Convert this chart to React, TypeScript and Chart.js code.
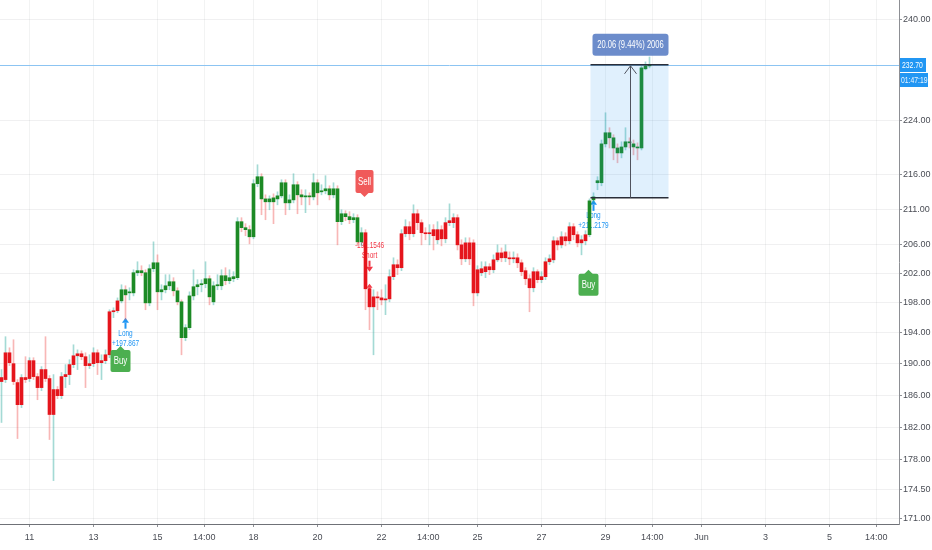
import React, { useEffect, useRef } from "react";
import { Chart, registerables } from "chart.js";

Chart.register(...registerables);

const FONT = '"Liberation Sans", Arial, sans-serif';

// 3-hour candles; hour offsets are measured from May 11, 00:00
const FIRST_BAR_HOUR = -21;
const BAR_HOURS = 3;

const OPEN = [
  187.71, 187.96, 191.41, 190.0, 187.58, 184.79, 188.22, 188.09, 190.39, 188.34,
  186.94, 189.24, 188.09, 183.56, 186.69, 185.92, 188.34, 188.6, 189.88, 191.02,
  191.28, 190.9, 189.75, 190.0, 191.41, 190.13, 190.39, 191.15, 196.81, 196.95,
  198.27, 199.77, 199.35, 199.35, 202.09, 202.37, 202.09, 198.0, 202.64, 203.46,
  199.49, 199.77, 200.31, 200.86, 199.63, 198.14, 193.38, 194.7, 198.94, 200.18,
  200.45, 200.59, 201.27, 198.14, 200.31, 200.31, 201.68, 201.0, 201.27, 201.41,
  209.21, 208.36, 208.08, 207.08, 214.67, 215.69, 212.47, 212.05, 212.62, 212.47,
  212.91, 214.81, 211.9, 212.33, 214.52, 213.06, 212.76, 212.91, 212.76, 214.81,
  213.49, 213.64, 213.93, 213.06, 213.93, 209.21, 210.34, 209.92, 209.49, 209.78,
  206.37, 207.65, 199.9, 197.47, 198.81, 198.67, 198.4, 198.54, 201.55, 203.19,
  202.78, 207.51, 208.5, 207.51, 210.34, 209.07, 207.65, 207.51, 208.08, 206.66,
  208.08, 206.8, 209.07, 209.07, 209.78, 205.95, 204.01, 206.23, 206.23, 199.35,
  202.09, 202.23, 202.91, 202.5, 203.87, 204.83, 204.15, 204.15, 204.01, 204.15,
  203.46, 202.37, 201.27, 200.04, 202.23, 201.14, 201.55, 203.6, 203.87, 206.52,
  205.95, 207.08, 206.52, 208.5, 207.37, 206.23, 206.52, 207.37, 212.33, 214.81,
  214.81, 220.55, 222.22, 221.46, 219.94, 219.2, 220.09, 220.86, 220.55, 220.09,
  219.94, 232.07, 232.53,
];
const HIGH = [
  189.24, 193.51, 192.06, 193.11, 187.96, 188.6, 190.9, 190.77, 190.77, 188.73,
  189.62, 193.51, 188.47, 188.6, 187.07, 188.86, 189.88, 190.51, 192.45, 191.79,
  191.66, 191.41, 191.15, 192.06, 191.79, 191.15, 191.79, 197.08, 197.34, 198.67,
  200.45, 200.31, 200.04, 202.5, 203.6, 203.05, 202.5, 203.19, 206.37, 204.56,
  200.45, 201.82, 201.82, 201.41, 200.04, 198.4, 195.1, 199.49, 202.5, 201.14,
  201.14, 203.6, 201.68, 200.86, 201.82, 202.5, 202.78, 202.5, 202.23, 209.78,
  209.78, 208.93, 208.64, 215.25, 217.45, 216.13, 213.06, 212.91, 213.2, 213.49,
  215.25, 215.25, 213.06, 216.13, 214.96, 213.79, 213.79, 213.35, 216.13, 215.25,
  214.52, 215.84, 214.37, 214.81, 214.37, 210.91, 210.77, 210.63, 210.34, 210.2,
  208.36, 208.08, 200.31, 199.77, 199.49, 199.77, 200.45, 202.5, 204.15, 203.87,
  208.08, 209.49, 209.21, 211.62, 210.91, 209.49, 208.36, 208.79, 208.79, 209.21,
  208.64, 209.78, 211.76, 210.34, 210.2, 206.66, 206.94, 206.94, 206.66, 203.05,
  203.6, 203.6, 203.33, 204.56, 205.95, 205.52, 205.95, 204.97, 204.97, 204.7,
  203.87, 202.78, 201.82, 202.78, 202.5, 202.23, 204.15, 204.56, 207.08, 206.94,
  207.79, 207.65, 209.07, 208.93, 207.79, 207.23, 207.93, 212.47, 213.35, 215.69,
  221.13, 225.25, 222.98, 221.92, 220.55, 220.86, 222.98, 221.46, 221.13, 220.7,
  232.53, 233.16, 233.94,
];
const LOW = [
  182.57, 187.58, 189.75, 187.32, 180.59, 184.42, 187.58, 187.71, 187.96, 185.41,
  186.56, 187.71, 180.47, 175.51, 185.54, 185.54, 186.94, 187.32, 189.49, 189.24,
  190.51, 186.94, 189.37, 189.62, 188.6, 187.96, 190.0, 190.77, 196.02, 196.68,
  198.0, 195.76, 198.4, 198.94, 201.68, 201.68, 197.08, 197.61, 202.23, 197.08,
  198.4, 199.35, 199.77, 198.94, 197.74, 191.15, 192.98, 194.43, 198.4, 199.08,
  199.49, 200.04, 197.74, 197.74, 199.77, 199.77, 200.45, 200.59, 200.86, 201.14,
  207.79, 207.23, 206.09, 206.8, 214.23, 210.2, 209.49, 210.91, 208.93, 211.62,
  212.62, 210.2, 210.91, 211.9, 210.34, 211.62, 210.49, 211.62, 212.33, 211.62,
  213.06, 213.2, 212.33, 212.62, 205.95, 208.79, 209.35, 208.93, 209.07, 205.81,
  205.81, 197.08, 194.43, 191.15, 197.08, 197.74, 196.42, 198.14, 201.14, 201.82,
  202.37, 207.08, 206.66, 207.08, 208.08, 205.95, 206.66, 205.95, 205.24, 206.09,
  205.81, 206.23, 208.64, 208.36, 205.24, 203.19, 203.6, 203.19, 197.61, 198.94,
  201.68, 201.41, 201.82, 202.09, 203.6, 203.6, 203.6, 203.19, 203.46, 202.78,
  201.68, 200.45, 196.81, 199.49, 200.72, 200.72, 201.14, 203.19, 203.46, 205.24,
  205.52, 205.81, 206.09, 206.66, 205.67, 204.56, 205.95, 207.08, 211.9, 213.79,
  214.37, 220.09, 219.94, 218.18, 217.74, 218.47, 219.64, 219.94, 218.91, 218.18,
  219.64, 231.91, 232.22,
];
const CLOSE = [
  188.22, 191.41, 190.13, 187.71, 184.79, 188.22, 187.96, 190.39, 188.34, 186.94,
  189.24, 188.09, 183.56, 186.69, 185.92, 188.34, 188.6, 189.88, 191.02, 191.28,
  190.9, 189.75, 190.0, 191.41, 190.13, 190.39, 191.15, 196.81, 196.95, 198.27,
  199.77, 199.08, 199.49, 202.09, 202.37, 202.09, 198.0, 202.64, 203.46, 199.49,
  199.77, 200.31, 200.86, 199.63, 198.14, 193.38, 194.7, 198.94, 200.18, 200.45,
  200.59, 201.27, 198.81, 200.31, 200.45, 201.68, 201.0, 201.41, 201.55, 209.21,
  208.36, 208.08, 207.08, 214.67, 215.69, 212.47, 212.05, 212.47, 212.05, 212.91,
  214.81, 211.9, 212.33, 214.52, 213.06, 212.76, 212.91, 212.76, 214.81, 213.35,
  213.64, 213.93, 213.06, 213.93, 209.21, 210.34, 209.92, 209.49, 209.78, 206.37,
  207.65, 199.9, 197.47, 198.81, 198.67, 198.4, 198.54, 201.55, 203.19, 202.78,
  207.51, 208.5, 207.51, 210.34, 209.07, 207.65, 207.51, 207.65, 207.23, 208.08,
  206.8, 209.07, 209.35, 209.78, 205.95, 204.01, 206.23, 204.01, 199.35, 202.5,
  202.64, 202.91, 202.5, 203.87, 204.83, 204.15, 204.97, 204.01, 204.15, 203.46,
  202.23, 201.27, 200.04, 202.23, 201.14, 201.55, 203.6, 204.01, 206.52, 205.95,
  207.08, 206.52, 208.5, 207.37, 206.23, 206.66, 207.37, 212.19, 212.76, 215.11,
  220.55, 222.22, 221.46, 219.94, 219.2, 220.09, 220.86, 220.7, 220.09, 219.94,
  232.22, 232.53, 232.7,
];

const X_TICK_HOURS = [0, 48, 96, 131, 168, 216, 264, 299, 336, 384, 432, 467, 504, 552, 600, 635];
const X_TICK_LABELS = ["11", "13", "15", "14:00", "18", "20", "22", "14:00", "25", "27", "29", "14:00", "Jun", "3", "5", "14:00"];
const Y_TICKS = [240, 224, 216, 211, 206, 202, 198, 194, 190, 186, 182, 178, 174.5, 171];

const X_MIN = -22.125;
const X_MAX = 652.125;
const Y_MIN = 170.42;
const Y_MAX = 243.16;

// strategy signals (indexes into the candle arrays)
const BUY_BARS = [30, 147];
const BUY_LABEL_PRICES = [192.3, 202.5];
const SELL_BARS = [91];
const SELL_LABEL_PRICES = [212.76];
const LONG_ENTRY_BARS = [31, 148];
const LONG_ENTRY_PRICES = [196.02, 212.33];
const LONG_ENTRY_TEXTS = ["+197.867", "+211.2179"];
const SHORT_ENTRY_BARS = [92];
const SHORT_ENTRY_PRICES = [202.23];
const SHORT_ENTRY_TEXTS = ["-191.1546"];

const LAST_PRICE = 232.7;
const COUNTDOWN = "01:47:19";

const MEASURE_FROM = 212.64;
const MEASURE_TO = 232.7;
const MEASURE_START_HOUR = 420.75;
const MEASURE_END_HOUR = 479.25;
const MEASURE_TEXT = "20.06 (9.44%) 2006";

const TEXT_SQUEEZE = 0.72;

const barHour = (i: number) => FIRST_BAR_HOUR + i * BAR_HOURS;

function isLong(i: number) {
  let lastBuy = -1;
  let lastSell = -1;
  BUY_BARS.forEach((b) => { if (b <= i) lastBuy = Math.max(lastBuy, b); });
  SELL_BARS.forEach((s) => { if (s <= i) lastSell = Math.max(lastSell, s); });
  return lastBuy > lastSell;
}

function roundRect(ctx: CanvasRenderingContext2D, x: number, y: number, w: number, h: number, r: number) {
  ctx.beginPath();
  ctx.moveTo(x + r, y);
  ctx.arcTo(x + w, y, x + w, y + h, r);
  ctx.arcTo(x + w, y + h, x, y + h, r);
  ctx.arcTo(x, y + h, x, y, r);
  ctx.arcTo(x, y, x + w, y, r);
  ctx.closePath();
}

function squeezedText(ctx: CanvasRenderingContext2D, text: string, x: number, y: number) {
  ctx.save();
  ctx.translate(x, y);
  ctx.scale(TEXT_SQUEEZE, 1);
  ctx.fillText(text, 0, 0);
  ctx.restore();
}

const overlayPlugin = {
  id: "tvOverlay",
  beforeDatasetsDraw(chart: any) {
    const { ctx, chartArea } = chart;
    const xs = chart.scales.x;
    const ys = chart.scales.y;
    ctx.save();
    // last price line
    const py = Math.round(ys.getPixelForValue(LAST_PRICE)) + 0.5;
    ctx.strokeStyle = "#8cc4f2";
    ctx.lineWidth = 1;
    ctx.beginPath();
    ctx.moveTo(chartArea.left, py);
    ctx.lineTo(chartArea.right, py);
    ctx.stroke();

    ctx.textAlign = "center";
    ctx.textBaseline = "middle";
    ctx.font = `9px ${FONT}`;
    // long entries
    LONG_ENTRY_BARS.forEach((b, j) => {
      const x = xs.getPixelForValue(barHour(b));
      const top = ys.getPixelForValue(LONG_ENTRY_PRICES[j]);
      ctx.fillStyle = "#2196f3";
      ctx.beginPath();
      ctx.moveTo(x, top);
      ctx.lineTo(x + 3.5, top + 5);
      ctx.lineTo(x - 3.5, top + 5);
      ctx.closePath();
      ctx.fill();
      ctx.fillRect(x - 1, top + 5, 2, 6);
      squeezedText(ctx, "Long", x, top + 16);
      squeezedText(ctx, LONG_ENTRY_TEXTS[j], x, top + 26);
    });
    // short entries
    SHORT_ENTRY_BARS.forEach((b, j) => {
      const x = xs.getPixelForValue(barHour(b));
      const tip = ys.getPixelForValue(SHORT_ENTRY_PRICES[j]);
      ctx.fillStyle = "#f23645";
      ctx.beginPath();
      ctx.moveTo(x, tip);
      ctx.lineTo(x + 3.5, tip - 5);
      ctx.lineTo(x - 3.5, tip - 5);
      ctx.closePath();
      ctx.fill();
      ctx.fillRect(x - 1, tip - 11, 2, 6);
      squeezedText(ctx, "Short", x, tip - 16);
      squeezedText(ctx, SHORT_ENTRY_TEXTS[j], x, tip - 26);
      // exit-long marker
      ctx.beginPath();
      ctx.moveTo(x, tip + 12);
      ctx.lineTo(x + 3, tip + 16);
      ctx.lineTo(x - 3, tip + 16);
      ctx.closePath();
      ctx.fill();
      ctx.fillRect(x - 1, tip + 16, 2, 5);
    });
    ctx.restore();
  },
  afterDatasetsDraw(chart: any) {
    const { ctx } = chart;
    const xs = chart.scales.x;
    const ys = chart.scales.y;
    ctx.save();
    // measurement box
    const x1 = xs.getPixelForValue(MEASURE_START_HOUR);
    const x2 = xs.getPixelForValue(MEASURE_END_HOUR);
    const yTop = ys.getPixelForValue(MEASURE_TO);
    const yBot = ys.getPixelForValue(MEASURE_FROM);
    ctx.fillStyle = "rgba(33,150,243,0.14)";
    ctx.fillRect(x1, yTop, x2 - x1, yBot - yTop);
    ctx.strokeStyle = "#2a2e39";
    ctx.lineWidth = 1.5;
    ctx.beginPath();
    ctx.moveTo(x1, yTop);
    ctx.lineTo(x2, yTop);
    ctx.moveTo(x1, yBot);
    ctx.lineTo(x2, yBot);
    ctx.stroke();
    const xm = Math.round((x1 + x2) / 2) + 0.5;
    ctx.strokeStyle = "#50535e";
    ctx.lineWidth = 1;
    ctx.beginPath();
    ctx.moveTo(xm, yBot);
    ctx.lineTo(xm, yTop + 1);
    ctx.moveTo(xm - 6, yTop + 9);
    ctx.lineTo(xm, yTop + 1);
    ctx.lineTo(xm + 6, yTop + 9);
    ctx.stroke();
    ctx.fillStyle = "rgba(88,124,196,0.88)";
    roundRect(ctx, xm - 38, yTop - 31, 76, 22, 3);
    ctx.fill();
    ctx.fillStyle = "#ffffff";
    ctx.textAlign = "center";
    ctx.textBaseline = "middle";
    ctx.font = `10.5px ${FONT}`;
    squeezedText(ctx, MEASURE_TEXT, xm, yTop - 20);

    // buy labels
    BUY_BARS.forEach((b, j) => {
      const x = xs.getPixelForValue(barHour(b)) - 1;
      const tip = ys.getPixelForValue(BUY_LABEL_PRICES[j]);
      ctx.fillStyle = "#4caf50";
      ctx.beginPath();
      ctx.moveTo(x, tip);
      ctx.lineTo(x + 5, tip + 5);
      ctx.lineTo(x - 5, tip + 5);
      ctx.closePath();
      ctx.fill();
      roundRect(ctx, x - 10, tip + 4, 20, 22, 2);
      ctx.fill();
      ctx.fillStyle = "#ffffff";
      ctx.font = `11px ${FONT}`;
      squeezedText(ctx, "Buy", x, tip + 15);
    });
    // sell labels
    SELL_BARS.forEach((b, j) => {
      const x = xs.getPixelForValue(barHour(b)) - 1;
      const tip = ys.getPixelForValue(SELL_LABEL_PRICES[j]);
      ctx.fillStyle = "#f05a5a";
      ctx.beginPath();
      ctx.moveTo(x, tip);
      ctx.lineTo(x + 5, tip - 5);
      ctx.lineTo(x - 5, tip - 5);
      ctx.closePath();
      ctx.fill();
      roundRect(ctx, x - 9, tip - 27, 18, 23, 2);
      ctx.fill();
      ctx.fillStyle = "#ffffff";
      ctx.font = `11px ${FONT}`;
      squeezedText(ctx, "Sell", x, tip - 15);
    });
    ctx.restore();
  },
  afterDraw(chart: any) {
    const { ctx, chartArea } = chart;
    const ys = chart.scales.y;
    ctx.save();
    const y = Math.round(ys.getPixelForValue(LAST_PRICE));
    const x0 = chartArea.right + 1;
    ctx.fillStyle = "#2196f3";
    ctx.fillRect(x0, y - 7, 26, 14);
    ctx.fillRect(x0, y + 8, 28, 14);
    ctx.fillStyle = "#ffffff";
    ctx.font = `9.5px ${FONT}`;
    ctx.textAlign = "left";
    ctx.textBaseline = "middle";
    squeezedText(ctx, LAST_PRICE.toFixed(2), x0 + 2, y);
    ctx.fillStyle = "rgba(255,255,255,0.9)";
    squeezedText(ctx, COUNTDOWN, x0 + 1, y + 15);
    ctx.restore();
  },
};

export default function App() {
  const ref = useRef<HTMLCanvasElement>(null);

  useEffect(() => {
    const canvas = ref.current;
    if (!canvas) return;
    const bodies = OPEN.map((o, i) => ({ x: barHour(i), y: [o, CLOSE[i]] }));
    const wicks = HIGH.map((h, i) => ({ x: barHour(i), y: [LOW[i], h] }));
    const bodyColors = OPEN.map((_, i) => (isLong(i) ? "#1c8a25" : "#e5151c"));
    const wickColors = OPEN.map((o, i) => (CLOSE[i] >= o ? "rgba(38,166,154,0.42)" : "rgba(239,83,80,0.42)"));

    const chart = new Chart(canvas, {
      type: "bar",
      data: {
        datasets: [
          {
            label: "body",
            data: bodies as any,
            backgroundColor: bodyColors,
            barThickness: 3,
            minBarLength: 1,
            grouped: false,
            order: 0,
          },
          {
            label: "wick",
            data: wicks as any,
            backgroundColor: wickColors,
            barThickness: 1,
            grouped: false,
            order: 1,
          },
        ],
      },
      options: {
        responsive: false,
        animation: false,
        devicePixelRatio: 1,
        layout: { padding: 0 },
        plugins: { legend: { display: false }, tooltip: { enabled: false } },
        scales: {
          x: {
            type: "linear",
            position: "bottom",
            min: X_MIN,
            max: X_MAX,
            offset: false,
            afterBuildTicks: (scale: any) => {
              scale.ticks = X_TICK_HOURS.map((v) => ({ value: v }));
            },
            afterFit: (scale: any) => {
              scale.height = 26;
              scale.paddingLeft = 0;
              scale.paddingRight = 0;
            },
            ticks: {
              autoSkip: false,
              maxRotation: 0,
              padding: 5,
              color: "#4a4d55",
              font: { family: FONT, size: 9 },
              callback: (v: any) => {
                const idx = X_TICK_HOURS.indexOf(Number(v));
                return idx >= 0 ? X_TICK_LABELS[idx] : "";
              },
            },
            grid: {
              offset: false,
              color: "rgba(42,46,57,0.06)",
              tickColor: "#8d8f94",
              tickLength: 3,
            },
            border: { color: "#6f7177", width: 1 },
          },
          y: {
            type: "logarithmic",
            position: "right",
            min: Y_MIN,
            max: Y_MAX,
            afterBuildTicks: (scale: any) => {
              scale.ticks = Y_TICKS.map((v) => ({ value: v }));
            },
            afterFit: (scale: any) => {
              scale.width = 33;
              scale.paddingTop = 0;
              scale.paddingBottom = 0;
            },
            ticks: {
              autoSkip: false,
              padding: 1,
              color: "#4a4d55",
              font: { family: FONT, size: 9 },
              callback: (v: any) => Number(v).toFixed(2),
            },
            grid: {
              color: "rgba(42,46,57,0.07)",
              tickColor: "#8d8f94",
              tickLength: 3,
            },
            border: { color: "#8d8f94", width: 1 },
          },
        },
      },
      plugins: [overlayPlugin],
    });
    return () => chart.destroy();
  }, []);

  return (
    <div style={{ position: "fixed", left: 0, top: 0, width: 932, height: 550, background: "#ffffff" }}>
      <canvas ref={ref} width={932} height={550} style={{ display: "block" }} />
    </div>
  );
}
